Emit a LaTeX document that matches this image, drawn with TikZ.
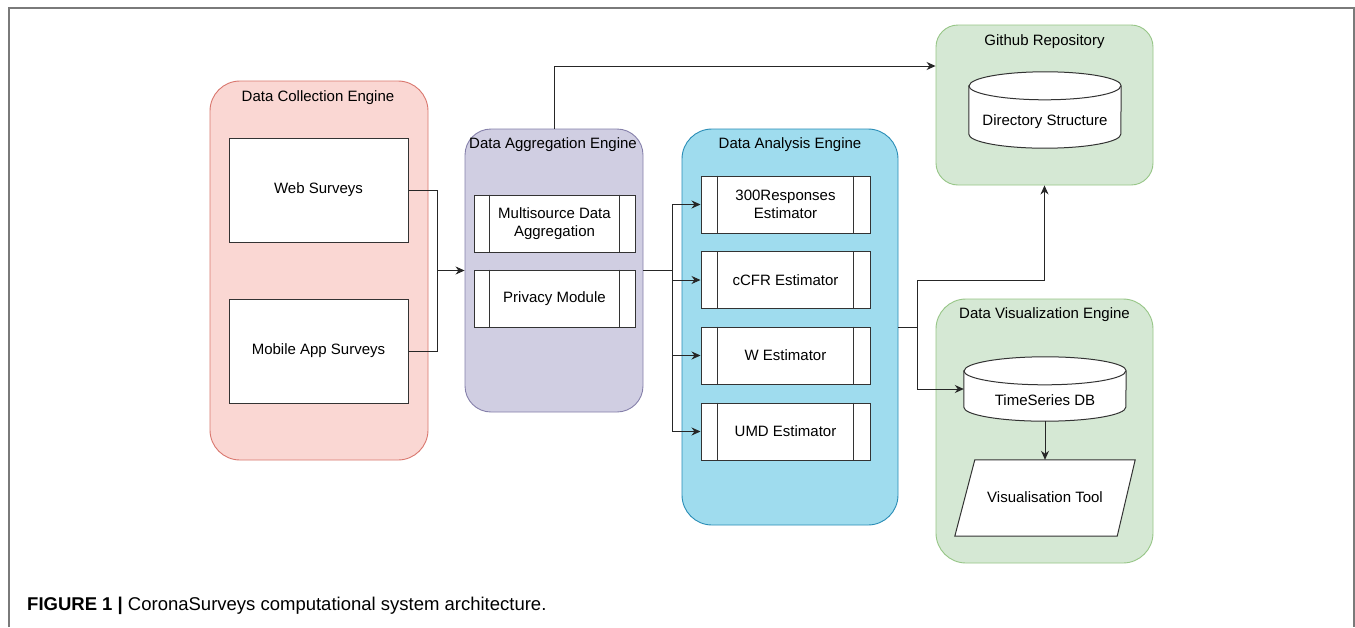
\documentclass[tikz,border=0pt]{standalone}
\usepackage{fontspec}
\setmainfont{Liberation Sans}
\usetikzlibrary{arrows.meta,calc}
\definecolor{pinkfill}{HTML}{FAD7D3}
\definecolor{pinkline}{HTML}{D9776E}
\definecolor{purfill}{HTML}{D0CEE2}
\definecolor{purline}{HTML}{8580AA}
\definecolor{bluefill}{HTML}{9FDCEE}
\definecolor{blueline}{HTML}{2A8DB6}
\definecolor{grnfill}{HTML}{D5E8D4}
\definecolor{grnline}{HTML}{97C687}
\definecolor{framecol}{HTML}{7A7A7A}
\tikzset{
  txt/.style={font=\fontsize{15}{18}\selectfont, text=black},
  container/.style={draw, line width=0.9pt, rounded corners=#1, inner sep=0pt},
  plainbox/.style={draw=black!80, fill=white, line width=1pt, inner sep=0pt, txt, align=center},
  procbox/.style={plainbox, minimum width=161, minimum height=57},
  ghost/.style={inner sep=0pt, txt, align=center},
  conn/.style={draw=black!85, line width=0.9pt},
  arr/.style={conn, -{Stealth[length=9pt,width=8pt]}},
}
\newcommand{\procbars}[1]{%
  \draw[black!80, line width=1pt] ($(#1.north west)!0.1!(#1.north east)$) -- ($(#1.south west)!0.1!(#1.south east)$);
  \draw[black!80, line width=1pt] ($(#1.north east)!0.1!(#1.north west)$) -- ($(#1.south east)!0.1!(#1.south west)$);}
% #1 node, #2 half width (pt), #3 ellipse y radius (pt)
\newcommand{\cyl}[3]{%
  \draw[black!80, line width=1pt, fill=white]
    ($(#1.north west)+(0,#3)$) -- ($(#1.south west)-(0,#3)$)
    arc[start angle=180, end angle=360, x radius=#2pt, y radius=#3pt]
    -- ($(#1.north east)+(0,#3)$)
    arc[start angle=0, end angle=180, x radius=#2pt, y radius=#3pt] -- cycle;
  \draw[black!80, line width=1pt] ($(#1.north west)+(0,#3)$)
    arc[start angle=180, end angle=360, x radius=#2pt, y radius=#3pt];}
\begin{document}
\begin{tikzpicture}[x=1pt,y=-1pt]
\useasboundingbox (0,0) rectangle (1355,627);
\fill[white] (0,0) rectangle (1355,627);
\draw[framecol, line width=1.3pt] (9,627) -- (9,8) -- (1354,8) -- (1354,627);

% containers
\node[container=30, draw=pinkline, fill=pinkfill, minimum width=218, minimum height=379] (dce) at (319,270.5) {};
\node[container=26, draw=purline, fill=purfill, minimum width=178, minimum height=283] (dae) at (554,270.5) {};
\node[container=30, draw=blueline, fill=bluefill, minimum width=216, minimum height=396] (dan) at (790,327) {};
\node[container=22, draw=grnline, fill=grnfill, minimum width=217, minimum height=160] (gh) at (1044.5,105) {};
\node[container=30, draw=grnline, fill=grnfill, minimum width=217, minimum height=264] (dve) at (1044.5,431) {};

% titles
\node[ghost] (dceT) at (318,98) {Data Collection Engine};
\node[ghost] (daeT) at (553,145) {Data Aggregation Engine};
\node[ghost] (danT) at (790,145) {Data Analysis Engine};
\node[ghost] (ghT) at (1044.5,42) {Github Repository};
\node[ghost] (dveT) at (1044.5,315) {Data Visualization Engine};

% collection boxes
\node[plainbox, minimum width=179, minimum height=104] (web) at (318.5,190) {Web Surveys};
\node[plainbox, minimum width=179, minimum height=104] (mob) at (318.5,351) {Mobile App Surveys};

% aggregation boxes
\node[procbox] (multi) at (554.5,223.5) {Multisource Data\\Aggregation};
\procbars{multi}
\node[procbox] (priv) at (554.5,298.5) {Privacy Module};
\procbars{priv}

% estimators
\node[procbox, minimum width=169] (e1) at (785.5,204.5) {300Responses\\Estimator};
\procbars{e1}
\node[procbox, minimum width=169] (e2) at (785.5,280) {cCFR Estimator};
\procbars{e2}
\node[procbox, minimum width=169] (e3) at (785.5,355.5) {W Estimator};
\procbars{e3}
\node[procbox, minimum width=169] (e4) at (785.5,431.5) {UMD Estimator};
\procbars{e4}

% cylinders
\node[inner sep=0pt, minimum width=152, minimum height=76] (dir) at (1045,110) {};
\cyl{dir}{76}{14}
\node[ghost] (dirT) at (1045,122) {Directory Structure};
\node[inner sep=0pt, minimum width=162, minimum height=64] (tsdb) at (1045,389) {};
\cyl{tsdb}{81}{14}
\node[ghost] (tsdbT) at (1045,400) {TimeSeries DB};

% parallelogram
\node[inner sep=0pt, minimum width=180, minimum height=76] (vis) at (1045,498) {};
\draw[black!80, line width=1pt, fill=white] ([xshift=20pt]vis.north west) -- (vis.north east) -- ([xshift=-18pt]vis.south east) -- (vis.south west) -- cycle;
\node[ghost] (visT) at (1045,497) {Visualisation Tool};

% junctions
\coordinate (j1) at (437,270.5);
\coordinate (j2) at (672,270.5);
\coordinate (j3) at (917,327);
\coordinate (toprow) at (0,66);
\coordinate (midrow) at (0,280);

% connectors
\draw[conn] (web.east) -| (j1);
\draw[conn] (mob.east) -| (j1);
\draw[arr] (j1) -- (dae.west);
\draw[arr] (dae.north) -- (dae.north |- toprow) -- (gh.west |- toprow);
\draw[conn] (dae.east) -- (j2);
\draw[arr] (j2) |- (e1.west);
\draw[arr] (j2) |- (e2.west);
\draw[arr] (j2) |- (e3.west);
\draw[arr] (j2) |- (e4.west);
\draw[conn] (dan.east) -- (j3);
\draw[arr] (j3) -- (j3 |- midrow) -| (gh.south);
\draw[arr] (j3) |- (tsdb.west);
\draw[arr] (tsdb.south) -- (vis.north);

% caption
\node[anchor=west, inner sep=0pt, font=\fontsize{18.5}{22}\selectfont] (cap) at (27,606)
  {\textbf{FIGURE 1 |} CoronaSurveys computational system architecture.};
\end{tikzpicture}
\end{document}
